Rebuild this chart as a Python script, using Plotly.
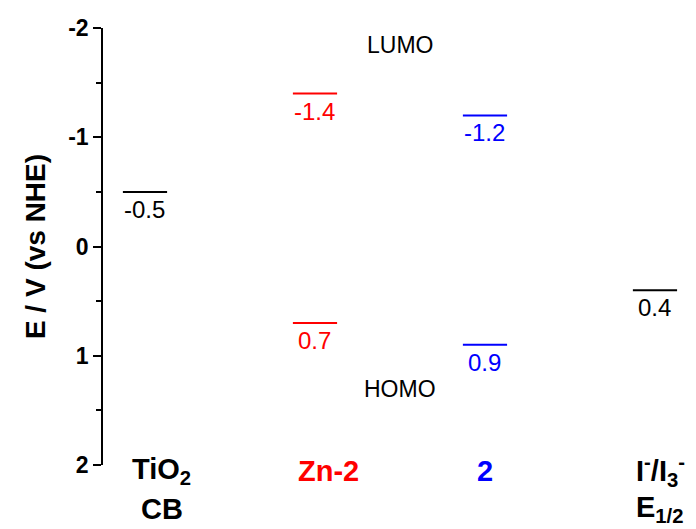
import plotly.graph_objects as go

# Energy levels (V vs NHE)
categories = ["TiO2 CB", "Zn-2", "2", "I-/I3- E1/2"]
cat_pos = [1, 2, 3, 4]
cat_colors = ["black", "red", "blue", "black"]
lumo = [-0.5, -1.4, -1.2, None]
homo = [None, 0.7, 0.9, 0.4]

y_ticks = [-2, -1, 0, 1, 2]
y_ticklabels = ["-2", "-1", "0", "1", "2"]

cat_line1 = ["TiO<sub>2</sub>", "Zn-2", "2", "I<sup>-</sup>/I<sub>3</sub><sup>-</sup>"]
cat_line2 = ["CB", "", "", "E<sub>1/2</sub>"]
cat_label_x = [1.1, 2.08, 3.0, 4.03]

FONT = "Liberation Sans, Arial, sans-serif"
HALF = 0.13

fig = go.Figure()
annotations = []

for pos, col, lu, ho in zip(cat_pos, cat_colors, lumo, homo):
    for v in (lu, ho):
        if v is None:
            continue
        fig.add_trace(go.Scatter(
            x=[pos - HALF, pos + HALF], y=[v, v], mode="lines",
            line=dict(color=col, width=2), hoverinfo="skip", showlegend=False,
        ))
        annotations.append(dict(
            x=pos, y=v, xref="x", yref="y", text=f"{v:g}", showarrow=False,
            yanchor="top", yshift=-2, font=dict(family=FONT, size=24, color=col),
        ))

for lx, l1, l2, col in zip(cat_label_x, cat_line1, cat_line2, cat_colors):
    annotations.append(dict(
        x=lx, y=0, xref="x", yref="paper", text=f"<b>{l1}</b>", showarrow=False,
        yanchor="middle", yshift=-6, font=dict(family=FONT, size=29, color=col),
    ))
    if l2:
        annotations.append(dict(
            x=lx, y=0, xref="x", yref="paper", text=f"<b>{l2}</b>", showarrow=False,
            yanchor="middle", yshift=-44, font=dict(family=FONT, size=29, color=col),
        ))

annotations.append(dict(x=2.5, y=-1.84, xref="x", yref="y", text="LUMO",
                        showarrow=False, font=dict(family=FONT, size=23, color="black")))
annotations.append(dict(x=2.5, y=1.3, xref="x", yref="y", text="HOMO",
                        showarrow=False, font=dict(family=FONT, size=23, color="black")))

fig.update_layout(
    width=696, height=529,
    margin=dict(l=103, r=6, t=28, b=64),
    paper_bgcolor="white", plot_bgcolor="white",
    showlegend=False,
    annotations=annotations,
    xaxis=dict(range=[0.753, 4.206], visible=False, showgrid=False, zeroline=False),
    yaxis=dict(
        range=[2, -2], tickmode="array", tickvals=y_ticks,
        ticktext=[f"<b>{t}</b>" for t in y_ticklabels],
        ticks="outside", ticklen=8, tickwidth=1.5, tickcolor="black",
        showline=True, linecolor="black", linewidth=1.5,
        showgrid=False, zeroline=False,
        tickfont=dict(family=FONT, size=23, color="black"),
        minor=dict(ticks="outside", ticklen=5, tickwidth=1.5, tickcolor="black",
                   tickmode="array", tickvals=[-1.5, -0.5, 0.5, 1.5]),
        title=dict(text="<b>E / V (vs NHE)</b>", standoff=14,
                   font=dict(family=FONT, size=28, color="black")),
    ),
)

fig.write_html("out.html")
